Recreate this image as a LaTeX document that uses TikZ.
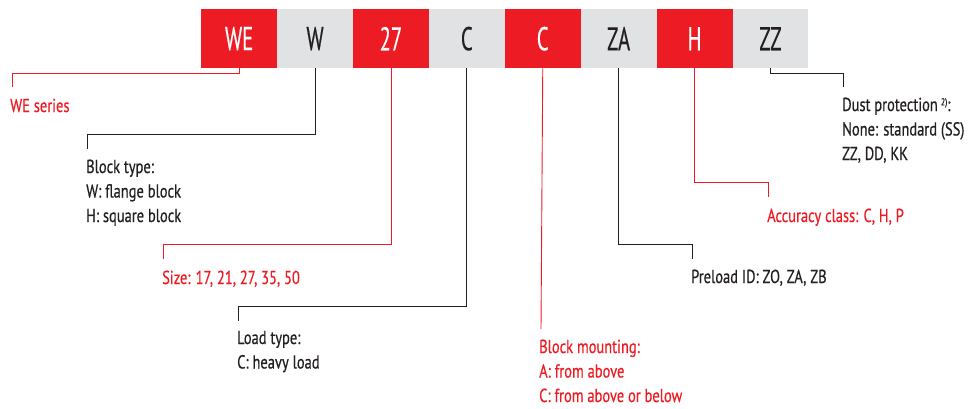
\documentclass[tikz,border=0pt]{standalone}
\usepackage{fontspec}
\setmainfont{PT Sans}[FakeStretch=0.77,FakeBold=0.5]
\newfontfamily\boxfont{PT Sans}[FakeStretch=0.63,FakeBold=0.3]
\definecolor{bred}{HTML}{ED1C24}
\definecolor{bgrey}{HTML}{E1E2E4}
\definecolor{bdark}{HTML}{231F20}
\begin{document}
\begin{tikzpicture}[x=1pt,y=-1pt,
  codebox/.style={minimum width=75.9pt,minimum height=59pt,inner sep=0pt,anchor=north west,font=\boxfont\fontsize{33}{33}\selectfont},
  redbox/.style={codebox,fill=bred,text=white},
  greybox/.style={codebox,fill=bgrey,text=bdark},
  lbl/.style={anchor=base west,inner sep=0pt,font=\fontsize{18.8}{24.5}\selectfont,align=left},
  redlbl/.style={lbl,text=bred},
  darklbl/.style={lbl,text=bdark},
  redline/.style={draw=bred,line width=0.9pt},
  darkline/.style={draw=bdark,line width=0.9pt}]
\useasboundingbox (0,0) rectangle (971,408);
% code boxes
\node[redbox]  (b1) at (201,9) {WE};
\node[greybox] (b2) at (276.9,9) {W};
\node[redbox]  (b3) at (352.8,9) {27};
\node[greybox] (b4) at (428.7,9) {C};
\node[redbox]  (b5) at (504.6,9) {C};
\node[greybox] (b6) at (580.5,9) {ZA};
\node[redbox]  (b7) at (656.4,9) {H};
\node[greybox] (b8) at (732.3,9) {ZZ};
% labels (anchor = baseline of last line)
\node[redlbl]  (l1) at (10,112) {WE series};
\node[darklbl] (l2) at (86,222) {Block type:\\W: flange block\\H: square block};
\node[redlbl]  (l3) at (162,284) {Size: 17, 21, 27, 35, 50};
\node[darklbl] (l4) at (237,368.5) {Load type:\\C: heavy load};
\node[redlbl]  (l5) at (539,402) {Block mounting:\\A: from above\\C: from above or below};
\node[darklbl] (l6) at (691,283) {Preload ID: ZO, ZA, ZB};
\node[redlbl]  (l7) at (767,222) {Accuracy class: C, H, P};
\node[darklbl] (l8) at (842,160) {Dust protection\,\raisebox{0.6ex}{\fontsize{10}{10}\selectfont 2)}:\\None: standard (SS)\\ZZ, DD, KK};
% connector ends
\coordinate (e1) at (12,87);
\coordinate (e2) at (87,149);
\coordinate (e3) at (163,259);
\coordinate (e4) at (238,321);
\coordinate (e5) at (541,329);
\coordinate (e6) at (692,259);
\coordinate (e7) at (768,197);
\coordinate (e8) at (843,87);
% connectors
\draw[redline]  (b1.south) -- ++(0,5) -| (e1);
\draw[darkline] (b2.south) -- ++(0,66) -| (e2);
\draw[redline]  (b3.south) -- ++(0,176) -| (e3);
\draw[darkline] (b4.south) -- ++(0,238) -| (e4);
\draw[redline]  (b5.south) -- (e5);
\draw[darkline] (b6.south) -- ++(0,176) -| (e6);
\draw[redline]  (b7.south) -- ++(0,114) -| (e7);
\draw[darkline] (b8.south) -- ++(0,5) -| (e8);
\end{tikzpicture}
\end{document}
